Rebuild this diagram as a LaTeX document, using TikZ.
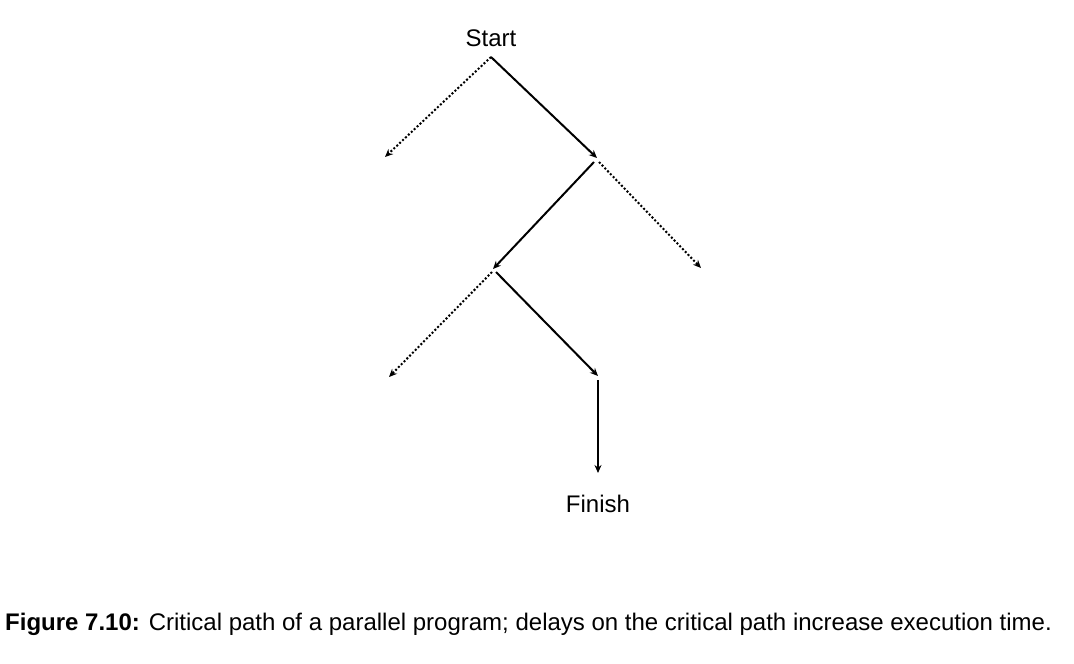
\documentclass[tikz,border=0pt]{standalone}
\usepackage{fontspec}
\setmainfont{Liberation Sans}
\usetikzlibrary{arrows.meta}
\begin{document}
\begin{tikzpicture}[x=1pt,y=-1pt,
  lbl/.style={font=\fontsize{24}{28}\selectfont, inner sep=0pt},
  crit/.style={line width=2pt, -{Stealth[length=8pt,width=7pt]}},
  other/.style={line width=2pt, dash pattern=on 2pt off 2pt, -{Stealth[length=8pt,width=7pt]}}]
\useasboundingbox (0,0) rectangle (1074,664);
\node[lbl] (start) at (491,38) {Start};
\coordinate (s) at (491,57);
\coordinate (b) at (597,158);
\coordinate (c) at (493,269);
\coordinate (d) at (598,376);
\coordinate (l1) at (385,157);
\coordinate (l2) at (701,268);
\coordinate (l3) at (389,377);
\node[lbl] (finish) at (598,504) {Finish};
\draw[other] (s) -- (l1);
\draw[crit] (s) -- (b);
\draw[crit] ([shift={(-3,4)}]b) -- (c);
\draw[other] ([shift={(2,4)}]b) -- (l2);
\draw[other] ([shift={(-1,3)}]c) -- (l3);
\draw[crit] ([shift={(3,3)}]c) -- (d);
\draw[crit] ([shift={(0,4)}]d) -- (finish.north |- 0,473);
\node[anchor=west, inner sep=0pt, font=\fontsize{24}{28}\selectfont] (cap) at (5,624)
  {\textbf{Figure 7.10:} Critical path of a parallel program; delays on the critical path increase execution time.};
\end{tikzpicture}
\end{document}
